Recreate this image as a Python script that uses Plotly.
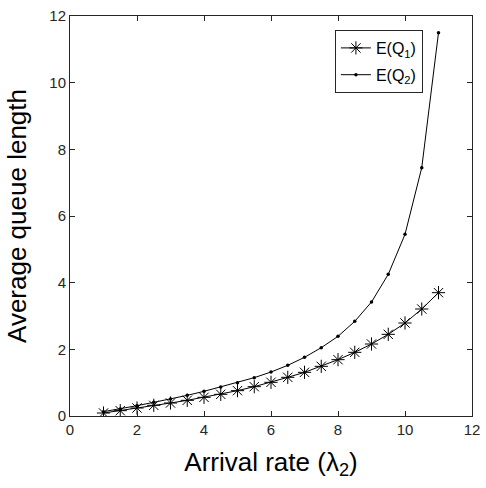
import plotly.graph_objects as go

x_vals = [1, 1.5, 2, 2.5, 3, 3.5, 4, 4.5, 5, 5.5, 6, 6.5, 7, 7.5, 8, 8.5, 9, 9.5, 10, 10.5, 11]
q1_vals = [0.09, 0.16, 0.24, 0.32, 0.39, 0.47, 0.56, 0.65, 0.76, 0.88, 1.01, 1.16, 1.31, 1.49, 1.69, 1.91, 2.16, 2.45, 2.79, 3.21, 3.70]
q2_vals = [0.13, 0.21, 0.31, 0.41, 0.51, 0.62, 0.74, 0.87, 1.00, 1.15, 1.32, 1.52, 1.76, 2.05, 2.39, 2.84, 3.42, 4.25, 5.45, 7.45, 11.50]
x_ticks = [0, 2, 4, 6, 8, 10, 12]
y_ticks = [0, 2, 4, 6, 8, 10, 12]

font = "Liberation Sans, Arial, sans-serif"
fig = go.Figure()
fig.add_trace(go.Scatter(
    x=x_vals, y=q1_vals, mode="lines+markers", name="E(Q<sub>1</sub>)",
    legendgroup="a",
    line=dict(color="black", width=1),
    marker=dict(symbol="asterisk-open", size=11, color="black", line=dict(color="black", width=1)),
))
fig.add_trace(go.Scatter(
    x=x_vals, y=q2_vals, mode="lines+markers", name="E(Q<sub>2</sub>)",
    legendgroup="b",
    line=dict(color="black", width=1),
    marker=dict(symbol="circle", size=3.5, color="black"),
))

axis_common = dict(
    showgrid=False, zeroline=False, showline=True, linecolor="#262626", linewidth=1,
    mirror="ticks", ticks="inside", ticklen=5, tickcolor="#262626", automargin=False,
    tickfont=dict(family=font, size=15, color="#262626"),
)
fig.update_xaxes(range=[0, 12], tickvals=x_ticks, **axis_common,
                 title=dict(text="Arrival rate (λ<sub>2</sub>)", font=dict(family=font, size=26, color="black")))
fig.update_yaxes(range=[0, 12], tickvals=y_ticks, **axis_common,
                 title=dict(text="Average queue length", font=dict(family=font, size=26, color="black")))

fig.update_layout(
    width=486, height=488,
    margin=dict(l=70, r=14, t=16, b=72, autoexpand=False),
    plot_bgcolor="white", paper_bgcolor="white",
    legend=dict(x=0.659, y=0.965, xanchor="left", yanchor="top",
                bordercolor="#262626", borderwidth=1, bgcolor="white",
                font=dict(family=font, size=16, color="black"),
                tracegroupgap=3),
    showlegend=True,
)
fig.write_html("out.html")
